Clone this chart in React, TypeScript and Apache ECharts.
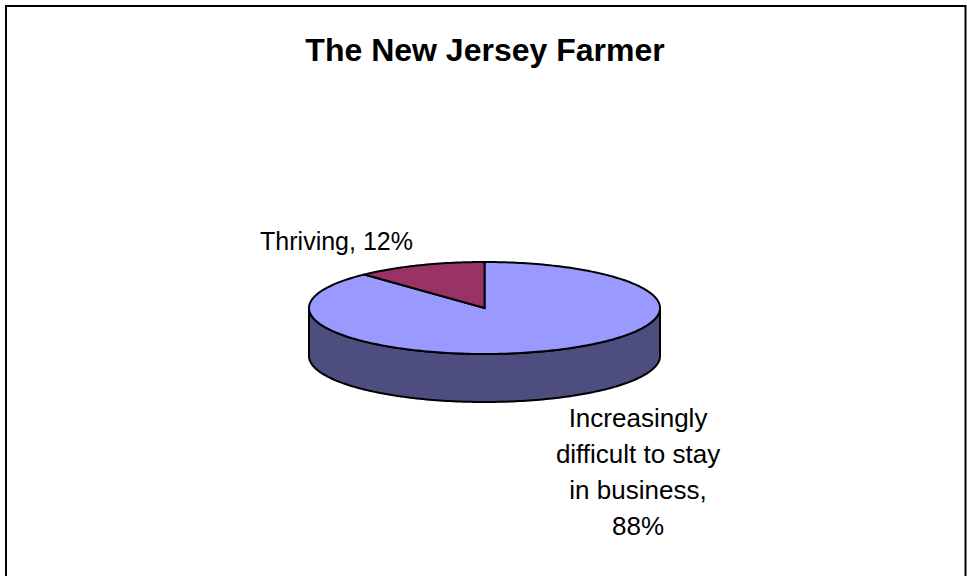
import React, { useEffect, useRef } from "react";
import * as echarts from "echarts";

const categories = ["Increasingly difficult to stay in business", "Thriving"];
const values = [88, 12];
const colors = ["#9999FF", "#993366"];
const wallColor = "#4D4D80";
const titleText = "The New Jersey Farmer";
const labelLines = [["Increasingly", "difficult to stay", "in business,", "88%"], ["Thriving, 12%"]];

const CX = 484.5, CY = 308, RX = 175.5, RY = 46, DEPTH = 48;
const FONT = '"Liberation Sans", Arial, sans-serif';

function px(a: number) { return CX + RX * Math.sin(a); }
function py(a: number, dy = 0) { return CY + dy - RY * Math.cos(a); }

function arcPath(a0: number, a1: number, dy = 0, move = true) {
  const n = Math.max(2, Math.ceil(Math.abs(a1 - a0) / 0.02));
  let d = "";
  for (let i = 0; i <= n; i++) {
    const a = a0 + ((a1 - a0) * i) / n;
    d += (i === 0 ? (move ? "M" : "L") : "L") + px(a).toFixed(2) + " " + py(a, dy).toFixed(2) + " ";
  }
  return d;
}

export default function App() {
  const ref = useRef<HTMLDivElement>(null);
  useEffect(() => {
    const chart = echarts.init(ref.current!, undefined, { renderer: "svg" });
    const total = values.reduce((s, v) => s + v, 0);
    chart.setOption({
      animation: false,
      backgroundColor: "#ffffff",
      title: {
        text: titleText,
        left: 480,
        top: 29,
        textAlign: "center",
        textStyle: { fontFamily: FONT, fontWeight: "bold", fontSize: 32, color: "#000" },
      },
      graphic: [
        {
          type: "polyline",
          silent: true,
          shape: { points: [[6, 600], [6, 6], [965.5, 6], [965.5, 600]] },
          style: { stroke: "#000", lineWidth: 2, fill: "none" },
        },
        ...labelLines[1].map((t, i) => ({
          type: "text", x: 336.5, y: 241 + i * 36,
          style: { text: t, fontFamily: FONT, fontSize: 25, fill: "#000", textAlign: "center", textVerticalAlign: "middle" },
        })),
        ...labelLines[0].map((t, i) => ({
          type: "text", x: 638, y: 417.5 + i * 36,
          style: { text: t, fontFamily: FONT, fontSize: 26, fill: "#000", textAlign: "center", textVerticalAlign: "middle" },
        })),
      ],
      series: [
        {
          type: "custom",
          coordinateSystem: "none",
          silent: true,
          clip: false,
          data: categories.map((name, i) => ({ name, value: [values[i], i] })),
          renderItem: (_p: any, api: any) => {
            const idx = api.value(1);
            let before = 0;
            for (let k = 0; k < idx; k++) before += values[k];
            const a0 = (before / total) * Math.PI * 2;
            const a1 = ((before + api.value(0)) / total) * Math.PI * 2;
            const children: any[] = [];
            const w0 = Math.max(a0, Math.PI / 2);
            const w1 = Math.min(a1, (3 * Math.PI) / 2);
            if (w1 > w0) {
              const d = arcPath(w0, w1, 0) + arcPath(w1, w0, DEPTH, false) + "Z";
              children.push({
                type: "path",
                shape: { pathData: d },
                style: { fill: wallColor, stroke: "#000", lineWidth: 2 },
              });
            }
            const top = "M" + CX + " " + CY + " " + arcPath(a0, a1, 0, false) + "Z";
            children.push({
              type: "path",
              shape: { pathData: top },
              style: { fill: colors[idx], stroke: "#000", lineWidth: 2 },
            });
            return { type: "group", children };
          },
        },
      ],
    });
    return () => chart.dispose();
  }, []);
  return <div ref={ref} style={{ position: "fixed", left: 0, top: 0, width: 967, height: 576 }} />;
}
